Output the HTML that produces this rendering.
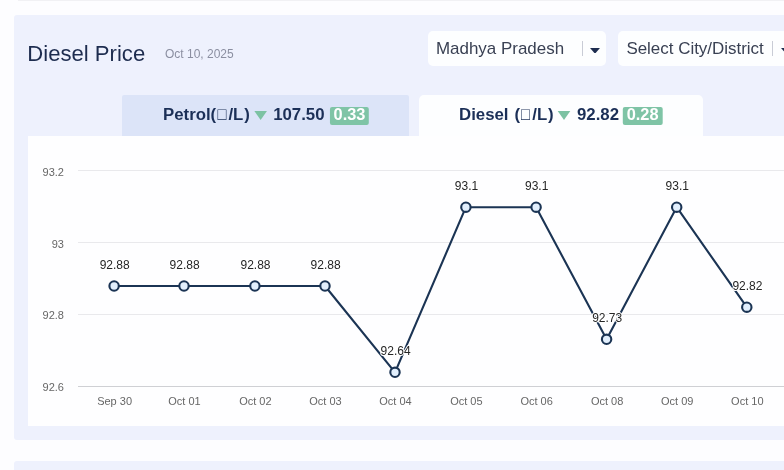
<!DOCTYPE html>
<html lang="en">
<head>
<meta charset="utf-8">
<title>Diesel Price</title>
<style>
html,body{margin:0;padding:0;}
body{width:784px;height:470px;overflow:hidden;background:#fdfdff;font-family:"Liberation Sans",Arial,sans-serif;position:relative;}
.abs{position:absolute;}
#topline{left:18px;top:0;width:766px;height:1px;background:#f1f1f4;}
#card{left:14px;top:15px;width:790px;height:425.3px;background:#eef1fd;border-radius:3px;}
#card2{left:14px;top:461px;width:790px;height:40px;background:#eef1fd;border-radius:3px;}
#title{left:27.3px;top:41.2px;font-size:22.1px;line-height:26px;color:#1d2c4f;white-space:nowrap;}
#date{left:165px;top:47px;font-size:12px;line-height:14px;color:#8b8fa1;white-space:nowrap;}
.dd{top:30.8px;width:178.4px;height:34.8px;background:#fdfeff;border-radius:5px;}
.dd .t{position:absolute;left:8px;top:7.9px;font-size:16.95px;line-height:20px;color:#394053;white-space:nowrap;}
.dd .sep{position:absolute;left:154px;top:10px;width:1px;height:15px;background:#c9ccd6;}
.dd svg{position:absolute;left:162.2px;top:16.8px;}
.tab{top:95.3px;height:40.7px;display:flex;align-items:center;justify-content:center;font-weight:bold;font-size:16px;color:#1b2f57;white-space:nowrap;}
#tabp{left:122px;width:286.6px;background:#dce4f8;border-radius:2px 2px 0 0;}
#tabd{left:419px;width:284px;background:#fdfeff;border-radius:5px 5px 0 0;}
.tab .in{display:flex;align-items:center;position:absolute;top:10.2px;height:20px;transform-origin:0 50%;transform:scaleX(1.05);}
.box{display:inline-block;font-weight:normal;font-size:17.4px;line-height:16px;width:11.6px;text-indent:-1.6px;text-align:center;transform:scaleX(.8);}
.tri{width:0;height:0;border-left:6px solid transparent;border-right:6px solid transparent;border-top:9.6px solid #7cc2a3;margin:0 5.6px 0 4.6px;}
.badge{background:#7fc4a6;color:#fff;font-size:15.6px;line-height:16.8px;height:18.2px;margin-top:0.7px;padding:0 3.7px;border-radius:2px;margin-left:4.9px;}
#chart{left:28px;top:136px;width:770px;height:290px;background:#fefeff;}
svg text{font-family:"Liberation Sans",Arial,sans-serif;}
#wrap{position:absolute;left:0;top:0;width:820px;height:510px;overflow:hidden;filter:blur(0.45px);}
</style>
</head>
<body>
<div id="wrap">
<div class="abs" id="topline"></div>
<div class="abs" id="card"></div>
<div class="abs" id="card2"></div>
<div class="abs" id="title">Diesel Price</div>
<div class="abs" id="date">Oct 10, 2025</div>

<div class="abs dd" style="left:428px"><span class="t">Madhya Pradesh</span><span class="sep"></span>
<svg width="10" height="5.6" viewBox="0 0 10 5" preserveAspectRatio="none"><path d="M0.6 0 H9.4 Q10 0 9.6 0.5 L5.4 4.7 Q5 5 4.6 4.7 L0.4 0.5 Q0 0 0.6 0Z" fill="#1e2d50"/></svg></div>
<div class="abs dd" style="left:618.4px"><span class="t">Select City/District</span><span class="sep"></span>
<svg width="10" height="5.6" viewBox="0 0 10 5" preserveAspectRatio="none"><path d="M0.6 0 H9.4 Q10 0 9.6 0.5 L5.4 4.7 Q5 5 4.6 4.7 L0.4 0.5 Q0 0 0.6 0Z" fill="#1e2d50"/></svg></div>

<div class="abs tab" id="tabp"><div class="in" style="left:40.5px"><span>Petrol(<span class="box">□</span>/<span style="letter-spacing:0.9px">L</span>)</span><span class="tri"></span><span>107.50</span><span class="badge">0.33</span></div></div>
<div class="abs tab" id="tabd"><div class="in" style="left:40px"><span style="word-spacing:1.2px">Diesel (<span class="box">□</span>/<span style="letter-spacing:0.9px">L</span>)</span><span class="tri" style="margin-left:3.7px;margin-right:6.5px"></span><span>92.82</span><span class="badge" style="margin-left:3.6px">0.28</span></div></div>

<div class="abs" id="chart">
<svg width="770" height="290" viewBox="28 136 770 290">
<g stroke="#e9e9ec" stroke-width="1">
<line x1="78" y1="170.5" x2="800" y2="170.5"/>
<line x1="78" y1="242.5" x2="800" y2="242.5"/>
<line x1="78" y1="314.5" x2="800" y2="314.5"/>
</g>
<line x1="78" y1="386.5" x2="800" y2="386.5" stroke="#cfd0d4" stroke-width="1"/>
<g font-size="11" fill="#666" text-anchor="end">
<text x="64" y="175.7">93.2</text>
<text x="64" y="247.8">93</text>
<text x="64" y="319.2">92.8</text>
<text x="64" y="390.7">92.6</text>
</g>
<g font-size="11" fill="#666" text-anchor="middle">
<text x="114.6" y="404.6">Sep 30</text>
<text x="184.5" y="404.6">Oct 01</text>
<text x="255.4" y="404.6">Oct 02</text>
<text x="325.5" y="404.6">Oct 03</text>
<text x="395.5" y="404.6">Oct 04</text>
<text x="466.4" y="404.6">Oct 05</text>
<text x="536.6" y="404.6">Oct 06</text>
<text x="607.1" y="404.6">Oct 08</text>
<text x="677.2" y="404.6">Oct 09</text>
<text x="747.3" y="404.6">Oct 10</text>
</g>
<polyline fill="none" stroke="#1b3454" stroke-width="2.1" stroke-linejoin="round" points="114.1,286.0 184.0,286.0 254.9,286.0 325.0,286.0 395.0,372.3 465.9,207.2 536.1,207.2 606.6,339.3 676.7,207.2 746.8,307.2"/>
<g fill="#e2effd" stroke="#1b3454" stroke-width="2.1">
<circle cx="114.1" cy="286.0" r="4.7"/>
<circle cx="184.0" cy="286.0" r="4.7"/>
<circle cx="254.9" cy="286.0" r="4.7"/>
<circle cx="325.0" cy="286.0" r="4.7"/>
<circle cx="395.0" cy="372.3" r="4.7"/>
<circle cx="465.9" cy="207.2" r="4.7"/>
<circle cx="536.1" cy="207.2" r="4.7"/>
<circle cx="606.6" cy="339.3" r="4.7"/>
<circle cx="676.7" cy="207.2" r="4.7"/>
<circle cx="746.8" cy="307.2" r="4.7"/>
</g>
<g font-size="12" fill="#262626" text-anchor="middle" stroke="#fff" stroke-width="2" stroke-linejoin="round" paint-order="stroke">
<text x="114.7" y="268.7">92.88</text>
<text x="184.6" y="268.7">92.88</text>
<text x="255.5" y="268.7">92.88</text>
<text x="325.6" y="268.7">92.88</text>
<text x="395.6" y="355.0">92.64</text>
<text x="466.5" y="189.9">93.1</text>
<text x="536.7" y="189.9">93.1</text>
<text x="607.2" y="322.0">92.73</text>
<text x="677.3" y="189.9">93.1</text>
<text x="747.4" y="289.9">92.82</text>
</g>
</svg>
</div>
</div>
</body>
</html>
